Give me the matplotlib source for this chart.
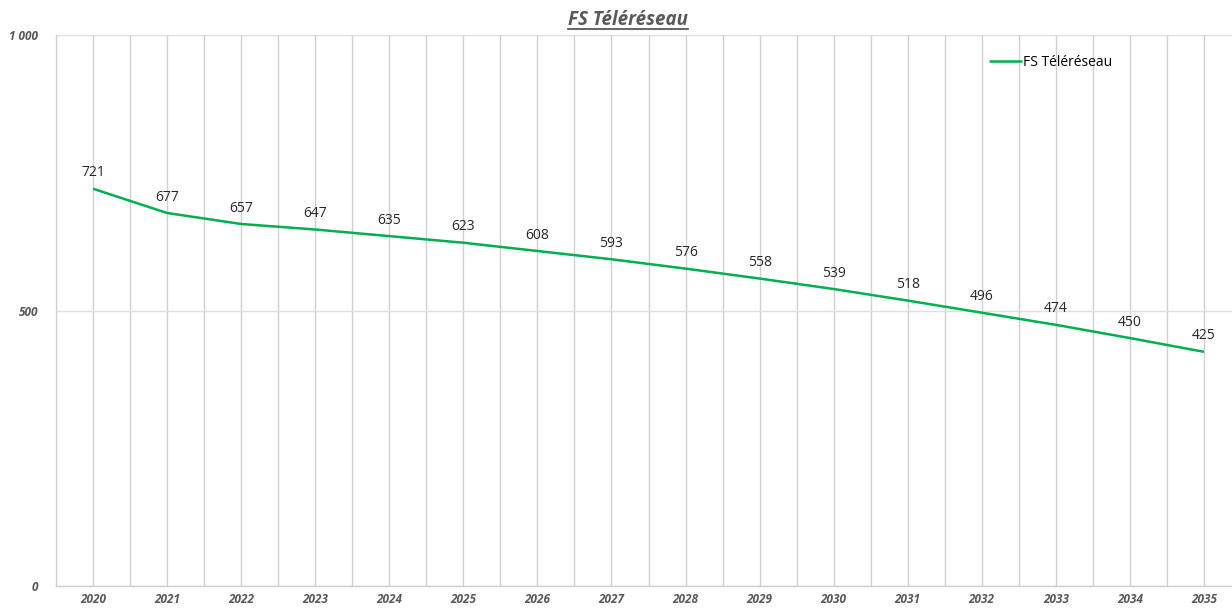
import matplotlib.pyplot as plt
from matplotlib.lines import Line2D
from matplotlib.ticker import FixedLocator, FuncFormatter

years = list(range(2020, 2036))
values = [721, 677, 657, 647, 635, 623, 608, 593, 576, 558, 539, 518, 496, 474, 450, 425]
series_name = 'FS Téléréseau'

plt.rcParams['font.family'] = ['Open Sans', 'DejaVu Sans']

fig = plt.figure(figsize=(12.32, 6.08), dpi=100)
ax = fig.add_axes([56 / 1232, 22 / 608, 1185 / 1232, 551 / 608])

green = '#00B050'
grey_txt = '#595959'
grid_col = '#D0D0D0'

ax.plot(years, values, color=green, linewidth=1.8, label=series_name, solid_capstyle='butt')
for x, v in zip(years, values):
    ax.annotate(str(v), (x, v), xytext=(0, 6), textcoords='offset points',
                ha='center', va='bottom', fontsize=10, color='#262626')

ax.set_xlim(years[0] - 0.5, years[-1] + 0.5)
ax.set_ylim(0, 1000)

ax.xaxis.set_major_locator(FixedLocator(years))
ax.xaxis.set_minor_locator(FixedLocator([y + 0.5 for y in years[:-1]]))
ax.set_yticks([0, 500, 1000])
ax.yaxis.set_major_formatter(FuncFormatter(lambda v, p: f'{int(v):,}'.replace(',', ' ')))

ax.grid(True, which='both', axis='x', color=grid_col, linewidth=1)
ax.grid(True, which='major', axis='y', color='#E0E0E0', linewidth=1)
ax.set_axisbelow(True)

for s in ['top', 'right']:
    ax.spines[s].set_visible(False)
for s in ['left', 'bottom']:
    ax.spines[s].set_color(grid_col)
    ax.spines[s].set_linewidth(1)

ax.tick_params(which='both', length=0)
ax.tick_params(axis='y', pad=13, labelsize=8.5, labelcolor=grey_txt)
ax.tick_params(axis='x', pad=5, labelsize=8.5, labelcolor=grey_txt)
for lab in ax.get_xticklabels() + ax.get_yticklabels():
    lab.set_fontweight('bold')
    lab.set_fontstyle('italic')

fig.legend(loc='center left', bbox_to_anchor=(983 / 1232, 1 - 62 / 608), frameon=False,
           fontsize=10, handlelength=2.4, handletextpad=0.1, borderaxespad=0)

title = fig.text(628 / 1232, 1 - 20 / 608, series_name, ha='center', va='center',
                 fontsize=13.5, fontweight='bold', fontstyle='italic', color=grey_txt)

# underline the title
fig.canvas.draw()
bb = title.get_window_extent().transformed(fig.transFigure.inverted())
uy = bb.y0 + 0.002
fig.add_artist(Line2D([bb.x0, bb.x1], [uy, uy], transform=fig.transFigure,
                      color=grey_txt, linewidth=1.3))

fig.savefig('out.png', dpi=100)
